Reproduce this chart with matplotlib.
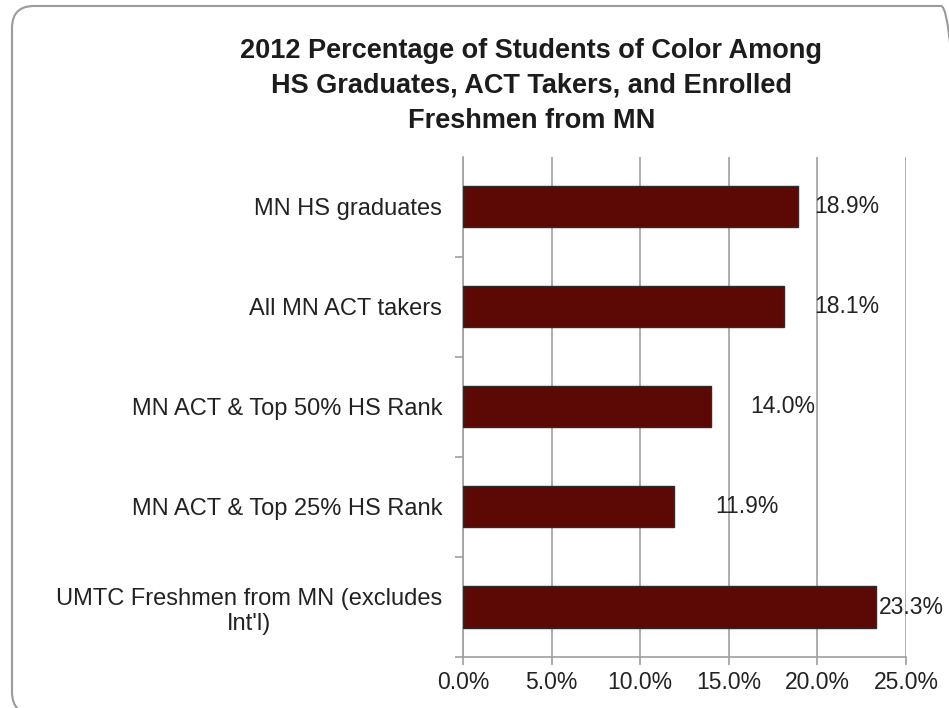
import matplotlib.pyplot as plt
from matplotlib.patches import FancyBboxPatch
from matplotlib.ticker import FuncFormatter, MultipleLocator

plt.rcParams['font.family'] = ['Liberation Sans', 'DejaVu Sans']

# Data (top to bottom as shown)
categories = [
    "MN HS graduates",
    "All MN ACT takers",
    "MN ACT & Top 50% HS Rank",
    "MN ACT & Top 25% HS Rank",
    "UMTC Freshmen from MN (excludes\nInt'l)",
]
values = [18.9, 18.1, 14.0, 11.9, 23.3]
value_labels = ["18.9%", "18.1%", "14.0%", "11.9%", "23.3%"]

title = ("2012 Percentage of Students of Color Among\n"
         "HS Graduates, ACT Takers, and Enrolled\n"
         "Freshmen from MN")

# label placement offsets (points) as they sit in the original
label_offsets = [12, 22, 28, 30, 2]

fig = plt.figure(figsize=(9.49, 7.08), dpi=100)

# rounded outer border (pixel coordinates, partly clipped at right/bottom)
border = FancyBboxPatch((12, -6), 951, 708,
                        boxstyle="round,pad=0,rounding_size=22",
                        transform=None, fill=False,
                        edgecolor='#9a9a9a', linewidth=1.5)
fig.patches.append(border)

ax = fig.add_axes([0.488, 0.072, 0.4667, 0.7065])

ypos = list(range(len(categories)))
ax.barh(ypos, values, height=0.41, color='#5c0905', edgecolor='#2b2b2b',
        linewidth=1.0, zorder=3)
ax.set_ylim(len(categories) - 0.5, -0.5)
ax.set_xlim(0, 25)

for y, v, lab, off in zip(ypos, values, value_labels, label_offsets):
    ax.annotate(lab, (v, y), xytext=(off, 0), textcoords='offset points',
                va='center', ha='left', fontsize=16.5, color='#222222',
                zorder=4)

ax.xaxis.set_major_locator(MultipleLocator(5))
ax.xaxis.set_major_formatter(FuncFormatter(lambda x, _: f"{x:.1f}%"))
ax.grid(axis='x', color='#a0a0a4', linewidth=1.2, zorder=0)

# category labels centred on bars, tick marks on the category boundaries
ax.set_yticks(ypos)
ax.set_yticklabels(categories, fontsize=17, color='#222222',
                   multialignment='center')
ax.set_yticks([i + 0.5 for i in range(len(categories))], minor=True)
ax.tick_params(axis='y', which='major', length=0, pad=15)
ax.tick_params(axis='y', which='minor', length=6, color='#a0a0a4', width=1.2)
ax.tick_params(axis='x', length=6, color='#a0a0a4', width=1.2,
               labelsize=16.5, labelcolor='#222222', pad=4)

for side in ['top', 'right']:
    ax.spines[side].set_visible(False)
for side in ['left', 'bottom']:
    ax.spines[side].set_color('#a0a0a4')
    ax.spines[side].set_linewidth(1.2)

fig.text(0.56, 0.947, title, ha='center', va='top', fontsize=19.5,
         fontweight='bold', color='#1c1c1c', linespacing=1.45)

fig.savefig('out.png', dpi=100)
